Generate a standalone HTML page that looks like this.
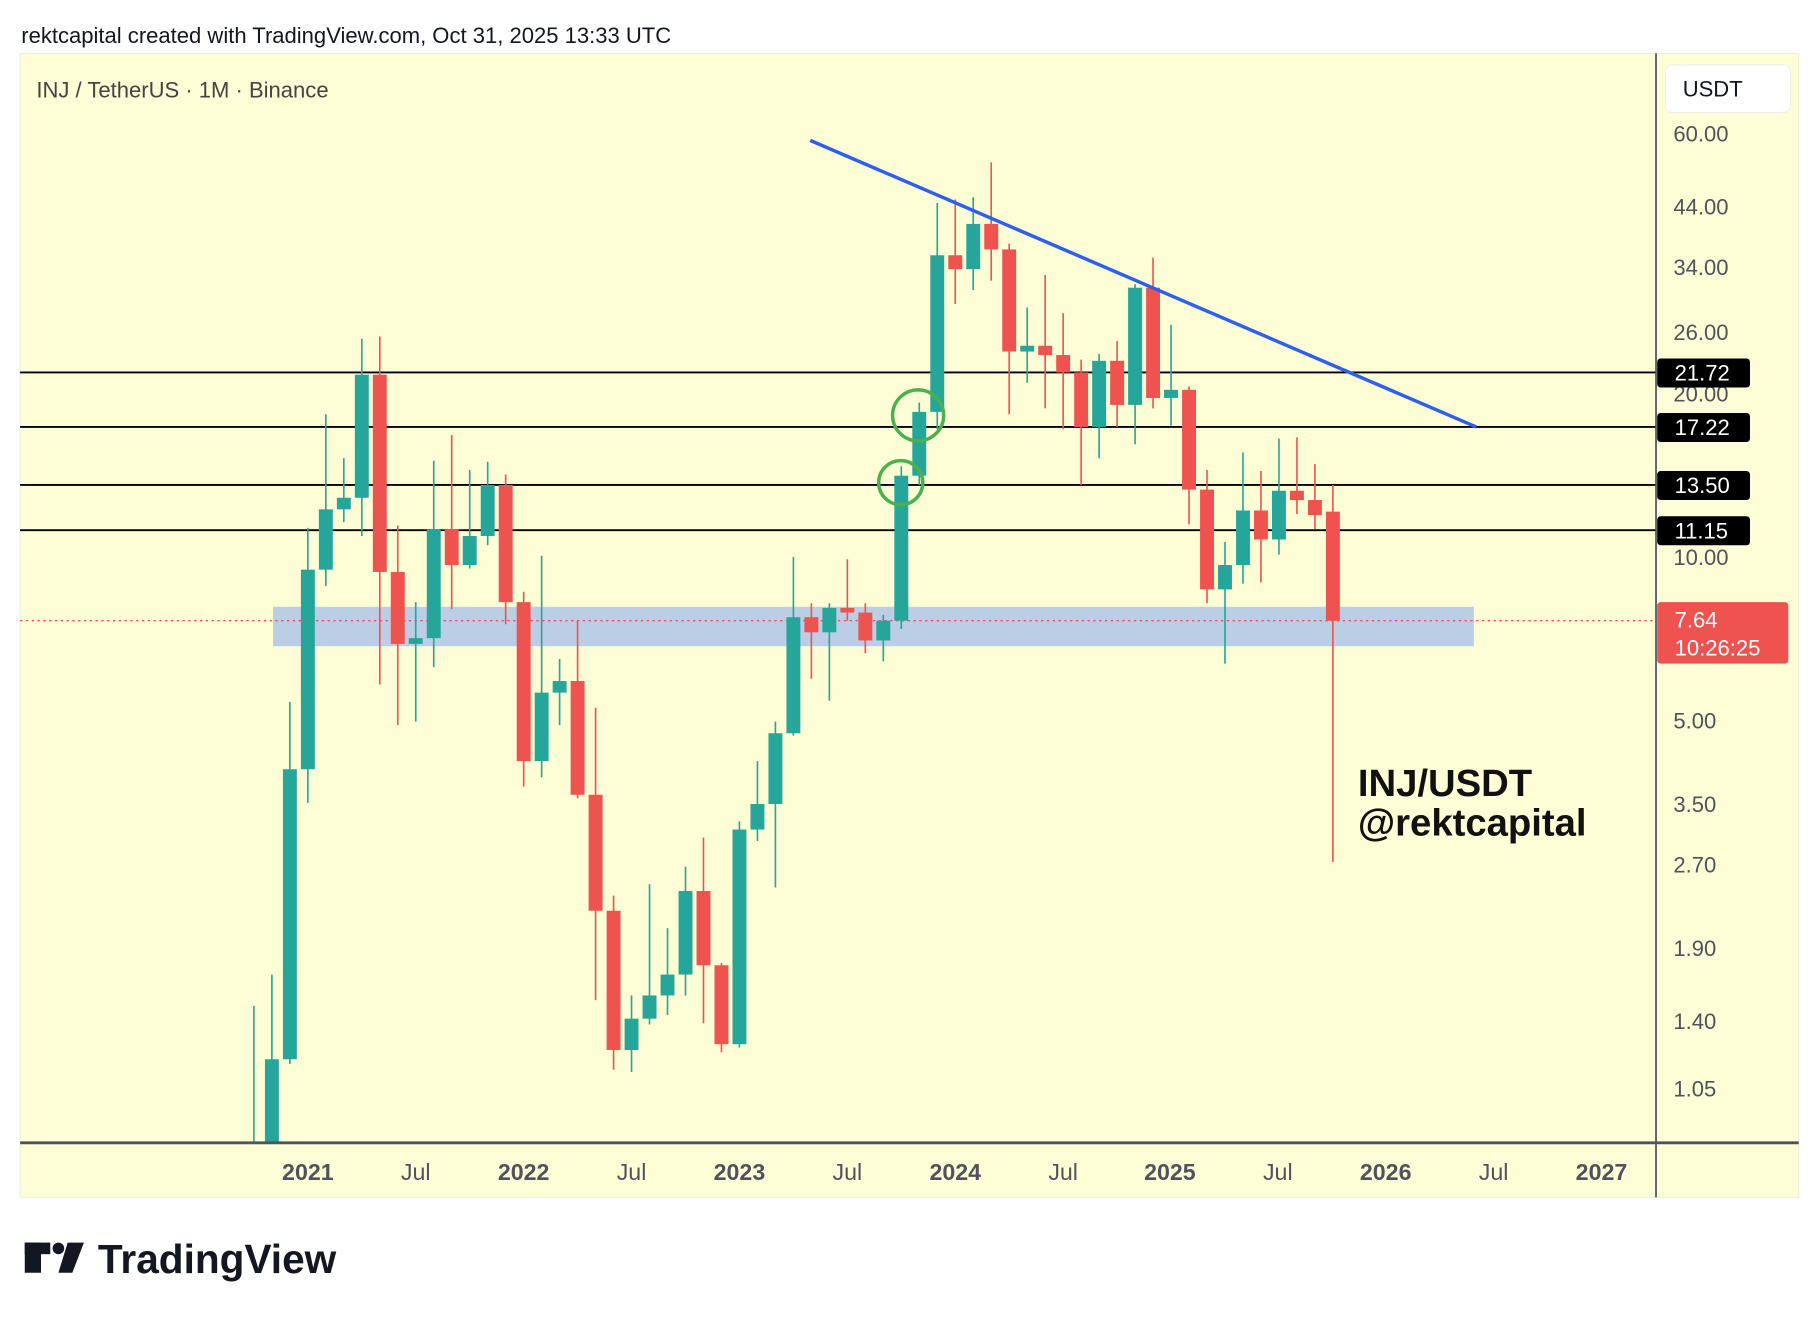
<!DOCTYPE html>
<html><head><meta charset="utf-8"><style>html,body{margin:0;padding:0;background:#fff}svg{display:block}</style></head>
<body>
<svg width="1820" height="1318" viewBox="0 0 1568 1136" xmlns="http://www.w3.org/2000/svg" font-family="Liberation Sans, sans-serif">
<rect width="1568" height="1136" fill="#fff"/>
<text x="18" y="37" font-size="19" fill="#131722">rektcapital created with TradingView.com, Oct 31, 2025 13:33 UTC</text>
<rect x="17" y="46" width="1533" height="986" fill="#fefed6" stroke="#eeeee0"/>
<text x="31" y="84" font-size="19" fill="#444">INJ / TetherUS · 1M · Binance</text>
<rect x="235" y="523" width="1035" height="34" fill="#bccde6"/>
<g stroke="#000" stroke-width="1.6">
<line x1="17" y1="321" x2="1427" y2="321"/><line x1="17" y1="368" x2="1427" y2="368"/>
<line x1="17" y1="418" x2="1427" y2="418"/><line x1="17" y1="457" x2="1427" y2="457"/>
</g>
<line x1="17" y1="535" x2="1427" y2="535" stroke="#ef5350" stroke-width="1.2" stroke-dasharray="2,3"/>
<path stroke="#26a69a" stroke-width="1.4" fill="none" d="M218.5 867V985M234 840V985M249.5 605V917M265 455V692M280.5 357V505M296 395V450M311.5 292V462M358 519V622M373.5 397V575M404.5 405V490M420 398V470M466.5 479V670M482 568V625M544 858V924M559.5 762V883M575 800V875M590.5 747V858M637 708V903M652.5 656V725M668 622V765M683.5 480V634M714.5 520V604M761 530V570M776.5 402V542M792 347V418M807.5 175V370M838.5 170V250M885 265V330M947 305V395M978 245V383M1009 280V367M1055.5 467V572M1071 390V503M1102 378V478"/>
<path stroke="#ef5350" stroke-width="1.4" fill="none" d="M327 290V590M342.5 453V625M389 375V525M435.5 409V538M451 510V678M497.5 535V688M513 610V862M528.5 772V922M606 722V882M621.5 830V907M699 520V585M730 482V535M745.5 520V563M823 172V262M854 140V242M869.5 210V357M900.5 237V352M916 270V370M931.5 310V418M962.5 294V368M993.5 222V352M1024.5 333V452M1040 405V520M1086.5 406V502M1117.5 377V443M1133 400V456M1148.5 418V743"/>
<g fill="#26a69a">
<rect x="228" y="913" width="12" height="72"/><rect x="243.5" y="663" width="12" height="250"/><rect x="259" y="491" width="12" height="172"/><rect x="274.5" y="439" width="12" height="52"/><rect x="290" y="429" width="12" height="10"/><rect x="305.5" y="323" width="12" height="106"/><rect x="352" y="550" width="12" height="5"/><rect x="367.5" y="456" width="12" height="94"/><rect x="398.5" y="462" width="12" height="25"/><rect x="414" y="418" width="12" height="44"/><rect x="460.5" y="597" width="12" height="59"/><rect x="476" y="587" width="12" height="10"/><rect x="538" y="878" width="12" height="27"/><rect x="553.5" y="858" width="12" height="20"/><rect x="569" y="840" width="12" height="18"/><rect x="584.5" y="768" width="12" height="72"/><rect x="631" y="715" width="12" height="185"/><rect x="646.5" y="693" width="12" height="22"/><rect x="662" y="632" width="12" height="61"/><rect x="677.5" y="532" width="12" height="100"/><rect x="708.5" y="524" width="12" height="21"/><rect x="755" y="535" width="12" height="17"/><rect x="770.5" y="410" width="12" height="125"/><rect x="786" y="355" width="12" height="55"/><rect x="801.5" y="220" width="12" height="135"/><rect x="832.5" y="193" width="12" height="39"/><rect x="879" y="298" width="12" height="5"/><rect x="941" y="311" width="12" height="57"/><rect x="972" y="248" width="12" height="101"/><rect x="1003" y="336" width="12" height="7"/><rect x="1049.5" y="487" width="12" height="21"/><rect x="1065" y="440" width="12" height="47"/><rect x="1096" y="423" width="12" height="42"/>
</g>
<g fill="#ef5350">
<rect x="321" y="323" width="12" height="170"/><rect x="336.5" y="493" width="12" height="62"/><rect x="383" y="456" width="12" height="31"/><rect x="429.5" y="418" width="12" height="101"/><rect x="445" y="519" width="12" height="137"/><rect x="491.5" y="587" width="12" height="98"/><rect x="507" y="685" width="12" height="100"/><rect x="522.5" y="785" width="12" height="120"/><rect x="600" y="768" width="12" height="64"/><rect x="615.5" y="832" width="12" height="68"/><rect x="693" y="532" width="12" height="13"/><rect x="724" y="524" width="12" height="4"/><rect x="739.5" y="528" width="12" height="24"/><rect x="817" y="220" width="12" height="12"/><rect x="848" y="193" width="12" height="22"/><rect x="863.5" y="215" width="12" height="88"/><rect x="894.5" y="298" width="12" height="8"/><rect x="910" y="306" width="12" height="15"/><rect x="925.5" y="321" width="12" height="47"/><rect x="956.5" y="311" width="12" height="38"/><rect x="987.5" y="248" width="12" height="95"/><rect x="1018.5" y="336" width="12" height="86"/><rect x="1034" y="422" width="12" height="86"/><rect x="1080.5" y="440" width="12" height="25"/><rect x="1111.5" y="423" width="12" height="8"/><rect x="1127" y="431" width="12" height="13"/><rect x="1142.5" y="441" width="12" height="94"/>
</g>
<line x1="698" y1="121" x2="1272" y2="368" stroke="#2f5fef" stroke-width="3"/>
<circle cx="791" cy="358" r="22" fill="none" stroke="#4caf50" stroke-width="3"/>
<circle cx="776" cy="416" r="19" fill="none" stroke="#4caf50" stroke-width="3"/>
<text x="1170" y="686" font-size="33" font-weight="bold" fill="#111">INJ/USDT</text>
<text x="1170" y="720" font-size="33" font-weight="bold" fill="#111">@rektcapital</text>
<line x1="17" y1="985" x2="1550" y2="985" stroke="#50535e" stroke-width="2.5"/>
<line x1="1427" y1="46" x2="1427" y2="1032" stroke="#50535e" stroke-width="1.5"/>
<rect x="1435" y="56" width="108" height="41" rx="6" fill="#fff" stroke="#eee"/>
<text x="1450" y="83" font-size="19" fill="#131722">USDT</text>
<g font-size="19" fill="#50535e">
<text x="1442" y="122">60.00</text><text x="1442" y="185">44.00</text><text x="1442" y="237">34.00</text>
<text x="1442" y="293">26.00</text><text x="1442" y="346">20.00</text><text x="1442" y="487">10.00</text>
<text x="1442" y="628">5.00</text><text x="1442" y="700">3.50</text><text x="1442" y="752">2.70</text>
<text x="1442" y="824">1.90</text><text x="1442" y="887">1.40</text><text x="1442" y="945">1.05</text>
</g>
<g font-size="19" fill="#fff">
<rect x="1428" y="309" width="80" height="25" rx="3" fill="#000"/><text x="1443" y="328">21.72</text>
<rect x="1428" y="356" width="80" height="25" rx="3" fill="#000"/><text x="1443" y="375">17.22</text>
<rect x="1428" y="406" width="80" height="25" rx="3" fill="#000"/><text x="1443" y="425">13.50</text>
<rect x="1428" y="445" width="80" height="25" rx="3" fill="#000"/><text x="1443" y="464">11.15</text>
<rect x="1428" y="519" width="113" height="53" rx="3" fill="#ef5350"/><text x="1443" y="541">7.64</text><text x="1443" y="565">10:26:25</text>
</g>
<g font-size="20" fill="#50535e" text-anchor="middle">
<text x="265" y="1017" font-weight="bold">2021</text><text x="358" y="1017">Jul</text>
<text x="451" y="1017" font-weight="bold">2022</text><text x="544" y="1017">Jul</text>
<text x="637" y="1017" font-weight="bold">2023</text><text x="730" y="1017">Jul</text>
<text x="823" y="1017" font-weight="bold">2024</text><text x="916" y="1017">Jul</text>
<text x="1008" y="1017" font-weight="bold">2025</text><text x="1101" y="1017">Jul</text>
<text x="1194" y="1017" font-weight="bold">2026</text><text x="1287" y="1017">Jul</text>
<text x="1380" y="1017" font-weight="bold">2027</text>
</g>
<g fill="#131722"><rect x="21" y="1071" width="14" height="26"/><rect x="21" y="1071" width="22" height="10"/><circle cx="50" cy="1076" r="5"/><polygon points="58,1071 72,1071 62,1097 50,1097"/></g>
<text x="84" y="1097" font-size="35" font-weight="bold" fill="#131722">TradingView</text>
</svg>
</body></html>
